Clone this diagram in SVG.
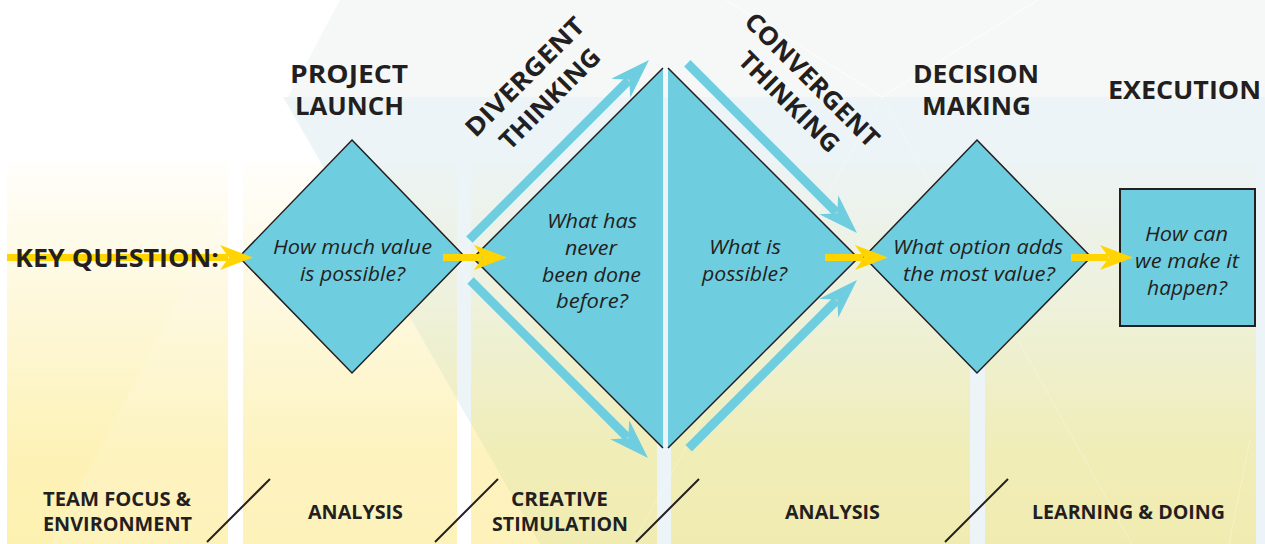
<svg xmlns="http://www.w3.org/2000/svg" width="1265" height="544" viewBox="0 0 1265 544">
  <style>
    .hd { font-family: "Open Sans", "Liberation Sans", sans-serif; font-weight: 700; font-size: 25px; fill: #231f20; text-anchor: middle; }
    .q { font-family: "Open Sans", "Liberation Sans", sans-serif; font-style: italic; font-size: 20px; fill: #231f20; text-anchor: middle; }
    .ft { font-family: "Open Sans", "Liberation Sans", sans-serif; font-weight: 700; font-size: 19px; fill: #231f20; text-anchor: middle; }
    .shape { fill: #6fcde0; stroke: #231f20; stroke-width: 1.5; stroke-linejoin: miter; }
    .half { fill: #6fcde0; stroke: none; }
    .edge { fill: none; stroke: #231f20; stroke-width: 1.5; }
    .band { stroke: #6fcde0; stroke-width: 9; }
    .ybar { stroke: #ffd400; stroke-width: 7; }
    .slash { stroke: #231f20; stroke-width: 2; }
    .facet { stroke: #ffffff; stroke-width: 1; fill: none; }
  </style>
  <defs>
    <linearGradient id="colWarm" gradientUnits="userSpaceOnUse" x1="0" y1="163" x2="0" y2="544">
      <stop offset="0" stop-color="#fffefa"/>
      <stop offset="0.36" stop-color="#fef8dc"/>
      <stop offset="0.76" stop-color="#fdf2b7"/>
      <stop offset="1" stop-color="#fdf1b1"/>
    </linearGradient>
    <linearGradient id="colCool" gradientUnits="userSpaceOnUse" x1="0" y1="163" x2="0" y2="544">
      <stop offset="0" stop-color="#ecf3f4"/>
      <stop offset="0.36" stop-color="#eef1dc"/>
      <stop offset="0.76" stop-color="#f0edb7"/>
      <stop offset="1" stop-color="#f0ecb1"/>
    </linearGradient>
    <clipPath id="coolZone">
      <polygon points="283,97 1265,97 1265,544 540,544"/>
    </clipPath>
    <g id="columns">
      <rect x="7" y="163" width="221" height="381"/>
      <rect x="243" y="163" width="214" height="381"/>
      <rect x="471" y="163" width="186" height="381"/>
      <rect x="671" y="163" width="299" height="381"/>
      <rect x="985" y="163" width="271" height="381"/>
    </g>
    <path id="bhead" d="M0,0 L-40,-13.5 L-28,0 L-40,13.5 Z" fill="#6fcde0"/>
    <path id="yhead" d="M0,0 L-33,-12.5 L-24,0 L-33,12.5 Z" fill="#ffd400"/>
  </defs>

  <!-- backdrop: pale facets and the five yellow lanes -->
  <g id="backdrop">
    <rect width="1265" height="544" fill="#ffffff"/>
    <polygon points="340,0 1265,0 1265,97 288,97" fill="#f6f8f8"/>
    <polygon points="283,97 1265,97 1265,544 540,544" fill="#ecf4f7"/>
    <use href="#columns" fill="url(#colWarm)"/>
    <g clip-path="url(#coolZone)">
      <use href="#columns" fill="url(#colCool)"/>
    </g>
    <polygon points="286,97 49,544 540,544" fill="#ffffff" opacity="0.12"/>
    <line class="facet" x1="726" y1="0" x2="882" y2="97" opacity="0.7"/>
    <line class="facet" x1="882" y1="97" x2="1038" y2="0" opacity="0.7"/>
    <line class="facet" x1="882" y1="97" x2="632" y2="544" opacity="0.3"/>
    <line class="facet" x1="882" y1="97" x2="1132" y2="544" opacity="0.3"/>
    <line class="facet" x1="1250" y1="440" x2="1229" y2="544" opacity="0.3"/>
  </g>

  <!-- stage headings -->
  <g id="headings">
    <text class="hd" x="349" y="83" textLength="118" lengthAdjust="spacingAndGlyphs">PROJECT</text>
    <text class="hd" x="349.5" y="115" textLength="109" lengthAdjust="spacingAndGlyphs">LAUNCH</text>
    <text class="hd" x="976" y="83" textLength="126" lengthAdjust="spacingAndGlyphs">DECISION</text>
    <text class="hd" x="976.5" y="115" textLength="109" lengthAdjust="spacingAndGlyphs">MAKING</text>
    <text class="hd" x="1184.5" y="99" textLength="153" lengthAdjust="spacingAndGlyphs">EXECUTION</text>
    <text class="hd" transform="translate(531,83) rotate(-45)" textLength="157" lengthAdjust="spacingAndGlyphs">DIVERGENT</text>
    <text class="hd" transform="translate(556,105) rotate(-45)" textLength="131" lengthAdjust="spacingAndGlyphs">THINKING</text>
    <text class="hd" transform="translate(806,86) rotate(45)" textLength="178" lengthAdjust="spacingAndGlyphs">CONVERGENT</text>
    <text class="hd" transform="translate(783,108) rotate(45)" textLength="131" lengthAdjust="spacingAndGlyphs">THINKING</text>
  </g>

  <!-- process nodes -->
  <g id="node-launch">
    <polygon class="shape" points="352,140 465,257 352,373 239,257"/>
    <text class="q" x="352.5" y="254" textLength="159" lengthAdjust="spacingAndGlyphs">How much value</text>
    <text class="q" x="352.5" y="281" textLength="105" lengthAdjust="spacingAndGlyphs">is possible?</text>
  </g>

  <g id="node-divergent">
    <polygon class="half" points="663,68 473,258 663,448"/>
    <polyline class="edge" points="663,68 473,258 663,448"/>
    <text class="q" x="592" y="228" textLength="90" lengthAdjust="spacingAndGlyphs">What has</text>
    <text class="q" x="591" y="255" textLength="52" lengthAdjust="spacingAndGlyphs">never</text>
    <text class="q" x="591.5" y="282" textLength="99" lengthAdjust="spacingAndGlyphs">been done</text>
    <text class="q" x="592" y="308" textLength="72" lengthAdjust="spacingAndGlyphs">before?</text>
  </g>

  <g id="node-convergent">
    <polygon class="half" points="668,68 858,258 668,448"/>
    <polyline class="edge" points="668,68 858,258 668,448"/>
    <text class="q" x="745" y="254" textLength="72" lengthAdjust="spacingAndGlyphs">What is</text>
    <text class="q" x="744.5" y="281" textLength="85" lengthAdjust="spacingAndGlyphs">possible?</text>
  </g>

  <g id="node-decision">
    <polygon class="shape" points="977,140 1091,257 977,373 864,257"/>
    <text class="q" x="978" y="254" textLength="170" lengthAdjust="spacingAndGlyphs">What option adds</text>
    <text class="q" x="979" y="281" textLength="152" lengthAdjust="spacingAndGlyphs">the most value?</text>
  </g>

  <g id="node-execution">
    <rect class="shape" x="1120" y="189" width="135" height="137" style="stroke-width:2"/>
    <text class="q" x="1186.5" y="241" textLength="83" lengthAdjust="spacingAndGlyphs">How can</text>
    <text class="q" x="1187" y="268" textLength="104" lengthAdjust="spacingAndGlyphs">we make it</text>
    <text class="q" x="1187" y="295" textLength="80" lengthAdjust="spacingAndGlyphs">happen?</text>
  </g>

  <!-- connectors: thinking bands and the yellow flow arrows, drawn over the nodes -->
  <g id="connectors">
    <g transform="translate(649,60) rotate(-45)">
      <line class="band" x1="-254" y1="0" x2="-29" y2="0"/>
      <use href="#bhead"/>
    </g>
    <g transform="translate(648,458) rotate(45)">
      <line class="band" x1="-251" y1="0" x2="-29" y2="0"/>
      <use href="#bhead"/>
    </g>
    <g transform="translate(857,233) rotate(45)">
      <line class="band" x1="-240" y1="0" x2="-29" y2="0"/>
      <use href="#bhead"/>
    </g>
    <g transform="translate(857,280) rotate(-45)">
      <line class="band" x1="-238" y1="0" x2="-29" y2="0"/>
      <use href="#bhead"/>
    </g>

    <g transform="translate(253,257.5)">
      <line class="ybar" x1="-246" y1="0" x2="-25" y2="0"/>
      <use href="#yhead"/>
    </g>
    <g transform="translate(507,257.5)">
      <line class="ybar" x1="-64" y1="0" x2="-25" y2="0"/>
      <use href="#yhead"/>
    </g>
    <g transform="translate(888,257.5)">
      <line class="ybar" x1="-63" y1="0" x2="-25" y2="0"/>
      <use href="#yhead"/>
    </g>
    <g transform="translate(1133,257.5)">
      <line class="ybar" x1="-62" y1="0" x2="-25" y2="0"/>
      <use href="#yhead"/>
    </g>
  </g>

  <g id="key-question">
    <text class="hd" x="15" y="267" style="text-anchor:start" textLength="204" lengthAdjust="spacingAndGlyphs">KEY QUESTION:</text>
  </g>

  <!-- lane labels along the bottom -->
  <g id="lane-labels">
    <text class="ft" x="117" y="506" textLength="148" lengthAdjust="spacingAndGlyphs">TEAM FOCUS &amp;</text>
    <text class="ft" x="117.5" y="531" textLength="149" lengthAdjust="spacingAndGlyphs">ENVIRONMENT</text>
    <text class="ft" x="355.5" y="519" textLength="95" lengthAdjust="spacingAndGlyphs">ANALYSIS</text>
    <text class="ft" x="559.5" y="506" textLength="97" lengthAdjust="spacingAndGlyphs">CREATIVE</text>
    <text class="ft" x="560" y="531" textLength="136" lengthAdjust="spacingAndGlyphs">STIMULATION</text>
    <text class="ft" x="832.5" y="519" textLength="95" lengthAdjust="spacingAndGlyphs">ANALYSIS</text>
    <text class="ft" x="1128.5" y="519" textLength="193" lengthAdjust="spacingAndGlyphs">LEARNING &amp; DOING</text>
    <line class="slash" x1="207" y1="542" x2="270" y2="479"/>
    <line class="slash" x1="435" y1="542" x2="498" y2="479"/>
    <line class="slash" x1="636" y1="542" x2="699" y2="479"/>
    <line class="slash" x1="945" y1="542" x2="1008" y2="479"/>
  </g>
</svg>
